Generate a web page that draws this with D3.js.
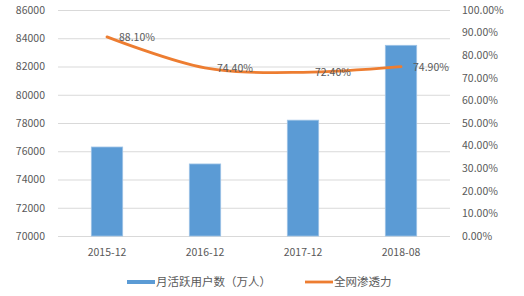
<!DOCTYPE html>
<html>
<head>
<meta charset="utf-8">
<script src="https://cdn.jsdelivr.net/npm/d3@7"></script>
<style>
  body { margin: 0; background: #fff; }
  text { font-family: "Noto Sans CJK SC", "Open Sans", sans-serif; fill: #595959; }
</style>
</head>
<body>
<div id="chart-area"></div>
<script>
// chart data
const categories = ["2015-12", "2016-12", "2017-12", "2018-08"];
const activeUsers = [76300, 75100, 78200, 83500];
const penetration = [88.1, 74.4, 72.4, 74.9];
const leftTicks = [70000, 72000, 74000, 76000, 78000, 80000, 82000, 84000, 86000];
const rightTicks = [0, 10, 20, 30, 40, 50, 60, 70, 80, 90, 100];
const seriesNames = ["月活跃用户数（万人）", "全网渗透力"];

const width = 524;
const height = 296;
const margins = { top: 10, right: 74, bottom: 60, left: 58 };
const graphWidth = width - margins.left - margins.right;
const graphHeight = height - margins.top - margins.bottom;

const svg = d3.select("#chart-area")
    .append("svg")
        .attr("width", width)
        .attr("height", height);

const chart = svg.append("g")
    .attr("transform", `translate(${margins.left}, ${margins.top})`);

const xMapping = d3.scaleBand()
    .domain(categories)
    .range([0, graphWidth])
    .paddingInner(0.68)
    .paddingOuter(0.34);

const yLeft = d3.scaleLinear()
    .domain([70000, 86000])
    .range([graphHeight, 0]);

const yRight = d3.scaleLinear()
    .domain([0, 100])
    .range([graphHeight, 0]);

// gridlines
chart.append("g")
    .selectAll("line")
    .data(leftTicks)
    .enter()
    .append("line")
    .attr("x1", 0)
    .attr("x2", graphWidth)
    .attr("y1", d => yLeft(d) + 0.5)
    .attr("y2", d => yLeft(d) + 0.5)
    .attr("stroke", "#d9d9d9")
    .attr("stroke-width", 1);

// left axis
const leftAxis = chart.append("g")
    .call(d3.axisLeft(yLeft).tickValues(leftTicks).tickSize(0).tickPadding(13).tickFormat(d3.format("d")));
leftAxis.select(".domain").remove();
leftAxis.selectAll("text").style("font-size", "10.5px").attr("fill", "#595959");

// right axis
const rightAxis = chart.append("g")
    .attr("transform", `translate(${graphWidth}, 0)`)
    .call(d3.axisRight(yRight).tickValues(rightTicks).tickSize(0).tickPadding(12).tickFormat(d => d.toFixed(2) + "%"));
rightAxis.select(".domain").remove();
rightAxis.selectAll("text").style("font-size", "10.5px").attr("fill", "#595959");

// x axis
const xAxis = chart.append("g")
    .attr("transform", `translate(0, ${graphHeight})`)
    .call(d3.axisBottom(xMapping).tickSize(0).tickPadding(13));
xAxis.select(".domain").remove();
xAxis.selectAll("text").style("font-size", "10.5px").attr("fill", "#595959");

// bars
chart.append("g")
    .selectAll("rect")
    .data(activeUsers)
    .enter()
    .append("rect")
    .attr("x", (d, i) => xMapping(categories[i]))
    .attr("y", d => yLeft(d))
    .attr("width", xMapping.bandwidth())
    .attr("height", d => graphHeight - yLeft(d))
    .attr("fill", "#5b9bd5")
    .attr("stroke", "#9dc3e6")
    .attr("stroke-width", 0.8);

// penetration line
const lineData = penetration.map((d, i) => [xMapping(categories[i]) + xMapping.bandwidth() / 2, yRight(d)]);
chart.append("path")
    .datum(lineData)
    .attr("fill", "none")
    .attr("stroke", "#ed7d31")
    .attr("stroke-width", 2.8)
    .attr("stroke-linejoin", "round")
    .attr("stroke-linecap", "round")
    .attr("d", d3.line().curve(d3.curveCatmullRom.alpha(0.5)));

// data labels
chart.append("g")
    .selectAll("text")
    .data(penetration)
    .enter()
    .append("text")
    .attr("x", (d, i) => lineData[i][0] + 12)
    .attr("y", (d, i) => lineData[i][1] + 4)
    .style("font-size", "10.5px")
    .text(d => d.toFixed(2) + "%");

// legend
const legend = svg.append("g")
    .attr("transform", "translate(0, 282)");

legend.append("rect")
    .attr("x", 127)
    .attr("y", -2)
    .attr("width", 28)
    .attr("height", 4)
    .attr("fill", "#5b9bd5");
legend.append("text")
    .attr("x", 156)
    .attr("y", 4)
    .style("font-size", "11.5px")
    .text(seriesNames[0]);

legend.append("line")
    .attr("x1", 305)
    .attr("x2", 333)
    .attr("y1", 0)
    .attr("y2", 0)
    .attr("stroke", "#ed7d31")
    .attr("stroke-width", 2.8);
legend.append("text")
    .attr("x", 334)
    .attr("y", 4)
    .style("font-size", "11.5px")
    .text(seriesNames[1]);
</script>
</body>
</html>
